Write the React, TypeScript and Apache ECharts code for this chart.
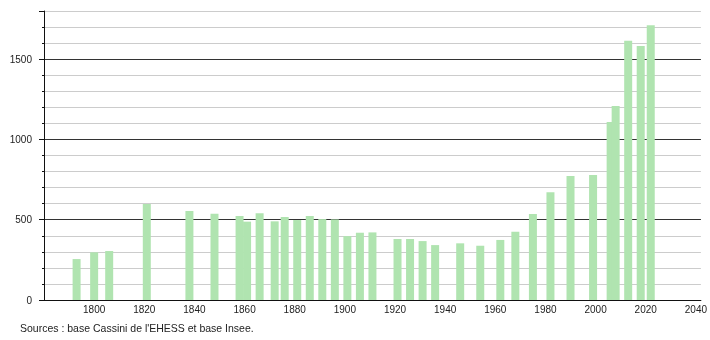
import React, { useEffect, useRef } from "react";
import * as echarts from "echarts";

const years = [
  1793, 1800, 1806, 1821, 1838, 1848, 1858, 1861, 1866, 1872, 1876, 1881, 1886,
  1891, 1896, 1901, 1906, 1911, 1921, 1926, 1931, 1936, 1946, 1954, 1962, 1968,
  1975, 1982, 1990, 1999, 2006, 2008, 2013, 2018, 2022,
];
const population = [
  255, 297, 305, 598, 554, 537, 523, 488, 540, 490, 517, 498, 523,
  504, 502, 398, 419, 421, 380, 380, 367, 342, 353, 338, 374, 425,
  535, 671, 772, 778, 1108, 1208, 1614, 1582, 1712,
];
const sourceText = "Sources : base Cassini de l'EHESS et base Insee.";

const FONT = "'Liberation Sans', Arial, sans-serif";

export default function App() {
  const ref = useRef<HTMLDivElement>(null);
  useEffect(() => {
    if (!ref.current) return;
    const chart = echarts.init(ref.current, undefined, { renderer: "svg" });
    const data = years.map((y, i) => [y, population[i]]);
    chart.setOption({
      animation: false,
      grid: { left: 44, right: 9, top: 11, bottom: 40 },
      xAxis: {
        type: "value",
        min: 1780,
        max: 2042,
        interval: 20,
        axisLine: { show: true, lineStyle: { color: "#111", width: 1 } },
        axisTick: { show: false },
        splitLine: { show: false },
        axisLabel: {
          color: "#222",
          fontSize: 10,
          fontFamily: FONT,
          margin: 4,
          showMinLabel: false,
          showMaxLabel: false,
          formatter: (v: number) => (v > 1780 && v % 20 === 0 ? String(v) : ""),
        },
      },
      yAxis: [
        {
          type: "value",
          min: 0,
          max: 1800,
          interval: 100,
          axisLine: { show: true, lineStyle: { color: "#111", width: 1 } },
          axisTick: { show: true, length: 2, lineStyle: { color: "#111" } },
          splitLine: { show: true, lineStyle: { color: "#cccccc", width: 1 } },
          axisLabel: {
            color: "#222",
            fontSize: 10,
            fontFamily: FONT,
            margin: 12,
            formatter: (v: number) => (v % 500 === 0 ? String(v) : ""),
          },
        },
        {
          type: "value",
          min: 0,
          max: 1800,
          interval: 500,
          position: "left",
          axisLine: { show: false },
          axisTick: { show: true, length: 5, lineStyle: { color: "#111" } },
          splitLine: {
            show: true,
            showMaxLine: false,
            lineStyle: { color: "#333333", width: 1 },
          },
          axisLabel: { show: false },
        },
      ],
      series: [
        {
          type: "bar",
          yAxisIndex: 0,
          data,
          barWidth: 8,
          itemStyle: { color: "#b0e4b0" },
        },
      ],
      graphic: [
        {
          type: "text",
          left: 20,
          top: 322,
          style: {
            text: sourceText,
            fill: "#222",
            font: `10.5px ${FONT}`,
          },
        },
      ],
    });
    return () => chart.dispose();
  }, []);
  return (
    <div
      ref={ref}
      style={{ position: "fixed", left: 0, top: 0, width: 710, height: 340 }}
    />
  );
}
